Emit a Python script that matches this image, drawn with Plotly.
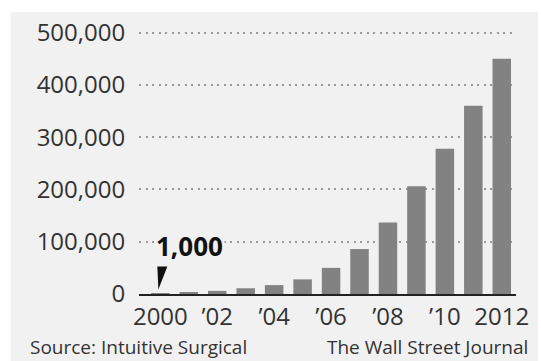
import plotly.graph_objects as go

# Annual da Vinci procedures
years = [2000, 2001, 2002, 2003, 2004, 2005, 2006, 2007, 2008, 2009, 2010, 2011, 2012]
procedures = [1000, 2500, 6000, 11000, 17000, 28000, 50000, 86000, 137000, 206000, 278000, 360000, 450000]

x_tick_vals = [2000, 2002, 2004, 2006, 2008, 2010, 2012]
x_tick_text = ["2000", "\u201902", "\u201904", "\u201906", "\u201908", "\u201910", "2012"]
y_tick_vals = [0, 100000, 200000, 300000, 400000, 500000]
y_tick_text = ["0", "100,000", "200,000", "300,000", "400,000", "500,000"]

source_text = "Source: Intuitive Surgical"
credit_text = "The Wall Street Journal"

PANEL = "#f1f1f1"
BAR = "#828282"
TEXT = "#333333"
FONT = "Open Sans"

Y_MAX = 505000
W, H = 541, 361
L, R, B = 139, 17.5, 67
# 500,000 sits 261.5 px above the baseline
T = H - B - 261.5 * Y_MAX / 500000
pw, ph = W - L - R, H - T - B


def px_to_paper_x(px):
    return (px - L) / pw


def px_to_paper_y(py):
    return (H - B - py) / ph


fig = go.Figure(
    go.Bar(
        x=years,
        y=procedures,
        marker=dict(color=BAR, line=dict(width=0)),
        width=0.65,
        hoverinfo="x+y",
    )
)

# grey panel behind the chart
fig.add_shape(
    type="rect", xref="paper", yref="paper", layer="below",
    x0=px_to_paper_x(8), x1=px_to_paper_x(W + 5),
    y0=px_to_paper_y(H + 5), y1=px_to_paper_y(12),
    fillcolor=PANEL, line=dict(width=0),
)

# pointer wedge for the first year's value
fig.add_shape(
    type="path", xref="x", yref="y",
    xsizemode="pixel", ysizemode="pixel",
    xanchor=years[0], yanchor=procedures[0],
    path="M-3,27 L7,27 L-2,4 Z",
    fillcolor="#111111", line=dict(width=0),
)

fig.add_annotation(
    x=years[0], y=procedures[0], xref="x", yref="y",
    text=f"<b>{procedures[0]:,}</b>",
    showarrow=False, xanchor="left", yanchor="bottom",
    xshift=-6, yshift=27,
    font=dict(family=FONT, size=26, color="#111111"),
    bgcolor=PANEL, borderpad=1,
)

fig.add_annotation(
    x=px_to_paper_x(26), y=px_to_paper_y(362), xref="paper", yref="paper",
    text=source_text, showarrow=False, xanchor="left", yanchor="bottom",
    font=dict(family=FONT, size=19, color=TEXT),
)
fig.add_annotation(
    x=px_to_paper_x(538), y=px_to_paper_y(362), xref="paper", yref="paper",
    text=credit_text, showarrow=False, xanchor="right", yanchor="bottom",
    font=dict(family=FONT, size=19, color=TEXT),
)

fig.update_layout(
    width=W, height=H,
    margin=dict(l=L, r=R, t=T, b=B, pad=0),
    paper_bgcolor="white",
    plot_bgcolor="rgba(0,0,0,0)",
    showlegend=False,
    bargap=0.35,
    font=dict(family=FONT, size=24, color=TEXT),
)

fig.update_xaxes(
    range=[1999.25, 2012.5],
    tickmode="array", tickvals=x_tick_vals, ticktext=x_tick_text,
    showgrid=False, zeroline=False,
    showline=True, linecolor="#222222", linewidth=2,
    ticks="", tickfont=dict(family=FONT, size=24, color=TEXT),
)

fig.update_yaxes(
    range=[0, Y_MAX],
    tickmode="array", tickvals=y_tick_vals, ticktext=y_tick_text,
    showgrid=True, gridcolor="#9a9a9a", gridwidth=1.6, griddash="2px,4.5px",
    zeroline=False, showline=False,
    ticks="outside", ticklen=8, tickcolor="rgba(0,0,0,0)",
    tickfont=dict(family=FONT, size=24, color=TEXT),
)

fig.write_html("out.html")
